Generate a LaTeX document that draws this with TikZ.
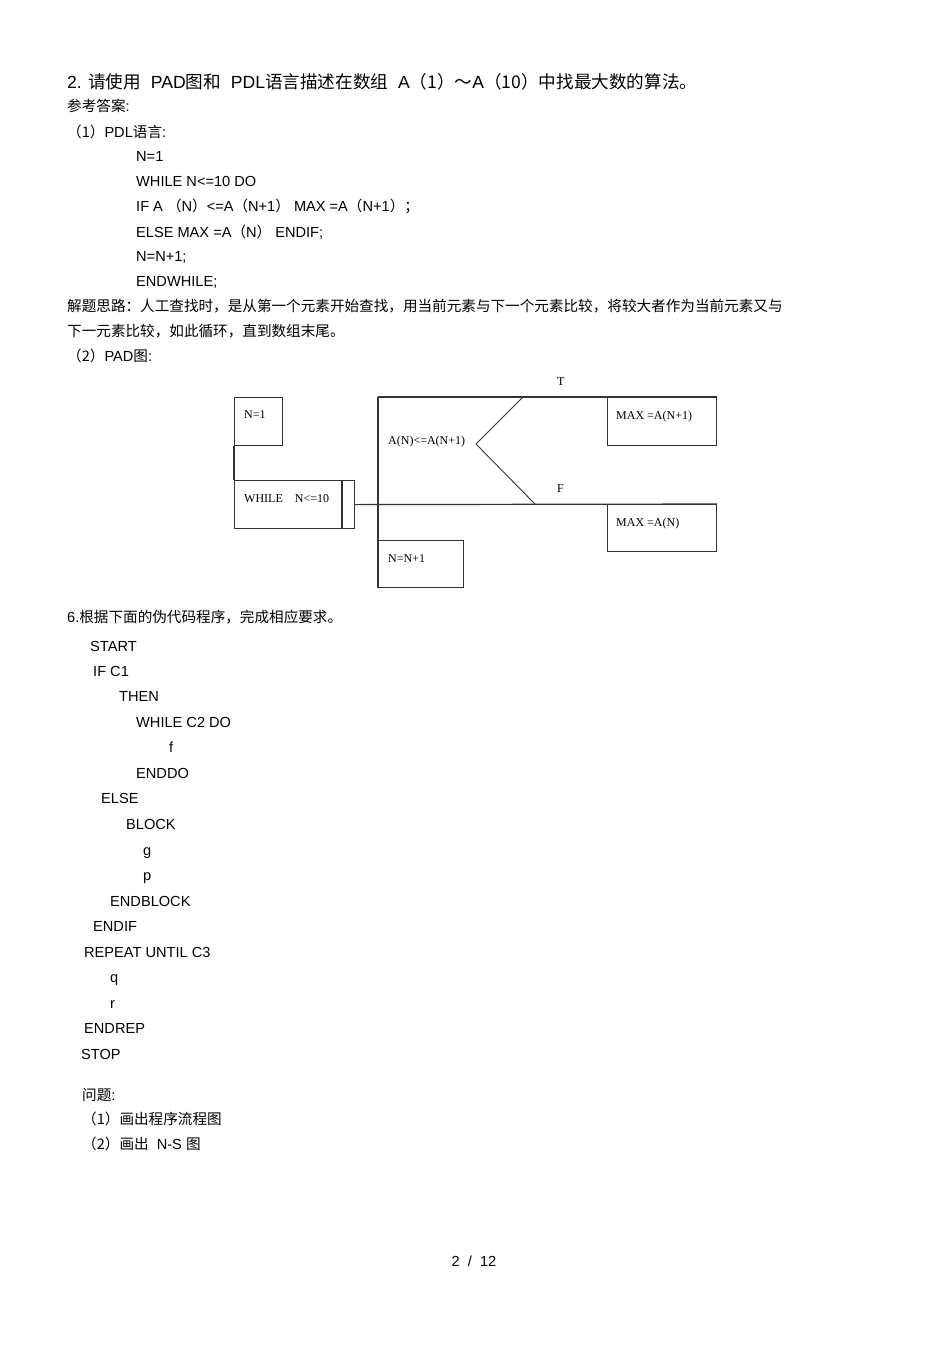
\documentclass[tikz,border=0pt]{standalone}
\usepackage{fontspec}
\usepackage{tikz}
\usetikzlibrary{positioning}
\setmainfont{Liberation Sans}
\newfontfamily\cjk{Noto Sans CJK SC}
\newfontfamily\padfont{Liberation Serif}
\newcommand{\zh}[1]{{\cjk #1}}
\tikzset{
  line/.style={draw=black!80,line width=1.2pt},
  box/.style={line,rectangle,inner sep=0pt,anchor=north west},
  padtxt/.style={font=\padfont\fontsize{12}{13}\selectfont,inner sep=0pt,anchor=base west},
  txt/.style={font=\fontsize{14.6}{16}\selectfont,inner sep=0pt,anchor=base west},
}

\begin{document}
\begin{tikzpicture}[x=1pt,y=-1pt]
    \useasboundingbox[fill=white] (0,0) rectangle (950,1345);

    % question and PDL text
    \node [txt,font=\fontsize{17.6}{19}\selectfont] (title) at (67,88) {2. \zh{请使用}\ \ PAD\zh{图和}\ \ PDL\zh{语言描述在数组}\ \ A\zh{（1）～}A\zh{（10）中找最大数的算法。}};
    \node [txt] (ans) at (67,111) {\zh{参考答案}:};
    \node [txt] (pdl) at (67,137) {\zh{（1）}PDL\zh{语言}:};
    \node [txt] (l1) at (136,161) {N=1};
    \node [txt] (l2) at (136,186) {WHILE N<=10 DO};
    \node [txt] (l3) at (136,211) {IF A \zh{（}N\zh{）}<=A\zh{（}N+1\zh{）} MAX =A\zh{（}N+1\zh{）；}};
    \node [txt] (l4) at (136,237) {ELSE MAX =A\zh{（}N\zh{）} ENDIF;};
    \node [txt] (l5) at (136,261) {N=N+1;};
    \node [txt] (l6) at (136,286) {ENDWHILE;};
    \node [txt] (hint1) at (67,311) {\zh{解题思路：人工查找时，是从第一个元素开始查找，用当前元素与下一个元素比较，将较大者作为当前元素又与}};
    \node [txt] (hint2) at (67,336) {\zh{下一元素比较，如此循环，直到数组末尾。}};
    \node [txt] (pad) at (67,361) {\zh{（2）}PAD\zh{图}:};

    % PAD diagram
    \node [box,minimum width=48pt,minimum height=48pt] (n1) at (234,397) {};
    \node [padtxt] at (244,418) {N=1};
    \node [box,minimum width=120pt,minimum height=48pt] (whl) at (234,480) {};
    \draw [line] (342,480) -- (342,528);
    \node [padtxt] at (244,502) {WHILE\quad N<=10};
    \node [box,minimum width=109pt,minimum height=48pt] (maxt) at (607,397) {};
    \node [padtxt] at (616,419) {MAX =A(N+1)};
    \node [box,minimum width=109pt,minimum height=47pt] (maxf) at (607,504) {};
    \node [padtxt] at (616,526) {MAX =A(N)};
    \node [box,minimum width=85pt,minimum height=47pt] (inc) at (378,540) {};
    \node [padtxt] at (388,562) {N=N+1};
    \node [padtxt] (cond) at (388,444) {A(N)<=A(N+1)};
    \node [padtxt] (T) at (557,385) {T};
    \node [padtxt] (F) at (557,492) {F};
    \coordinate (top) at (378,397);
    \coordinate (d1) at (523,397);
    \coordinate (d2) at (476,444);
    \coordinate (d3) at (535,504);

    \draw [line] (n1.south west) -- (whl.north west);
    \draw [line] (whl.east) -- (maxf.north east);
    \draw [line] (top) -- (maxt.north east);
    \draw [line] (top) -- (inc.south west);
    \draw [line,line width=0.9pt] (d1) -- (d2) -- (d3);

    % second question
    \node [txt] (q6) at (67,622) {6.\zh{根据下面的伪代码程序，完成相应要求。}};
    \node [txt] (c1) at (90,651) {START};
    \node [txt] (c2) at (93,676) {IF C1};
    \node [txt] (c3) at (119,701) {THEN};
    \node [txt] (c4) at (136,727) {WHILE C2 DO};
    \node [txt] (c5) at (169,752) {f};
    \node [txt] (c6) at (136,778) {ENDDO};
    \node [txt] (c7) at (101,803) {ELSE};
    \node [txt] (c8) at (126,829) {BLOCK};
    \node [txt] (c9) at (143,855) {g};
    \node [txt] (c10) at (143,880) {p};
    \node [txt] (c11) at (110,906) {ENDBLOCK};
    \node [txt] (c12) at (93,931) {ENDIF};
    \node [txt] (c13) at (84,957) {REPEAT UNTIL C3};
    \node [txt] (c14) at (110,982) {q};
    \node [txt] (c15) at (110,1008) {r};
    \node [txt] (c16) at (84,1033) {ENDREP};
    \node [txt] (c17) at (81,1059) {STOP};
    \node [txt] (ask) at (82,1100) {\zh{问题}:};
    \node [txt] (ask1) at (82,1124) {\zh{（1）画出程序流程图}};
    \node [txt] (ask2) at (82,1149) {\zh{（2）画出}\ \ N-S\ \zh{图}};
    \node [txt,anchor=base] (page) at (474,1266) {2\ \ /\ \ 12};
\end{tikzpicture}
\end{document}
